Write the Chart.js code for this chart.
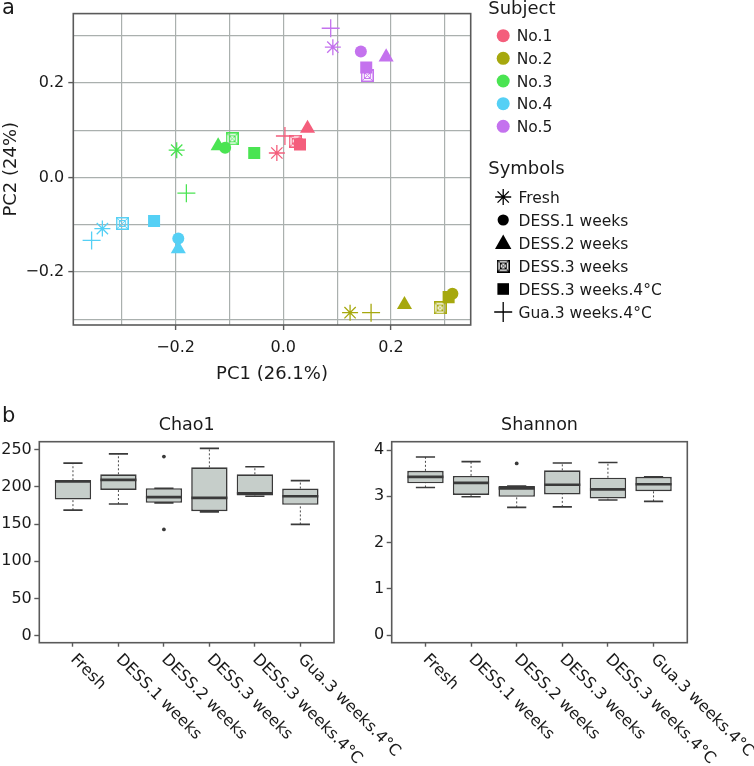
<!DOCTYPE html>
<html lang="en">
<head>
<meta charset="utf-8">
<title>PCA and alpha diversity</title>
<script src="https://cdn.jsdelivr.net/npm/chart.js"></script>
<style>
  html, body { margin: 0; padding: 0; background: #fff; }
  #fig { position: relative; width: 754px; height: 766px; overflow: hidden; font-family: "DejaVu Sans", sans-serif; color: #1a1a1a; }
  #fig canvas { position: absolute; }
  .panel { position: absolute; font-size: 21px; line-height: 21px; }
</style>
</head>
<body>
<div id="fig">
  <canvas id="pca" width="754" height="390" style="left:0;top:0"></canvas>
  <canvas id="chao" width="430" height="376" style="left:0;top:390px"></canvas>
  <canvas id="shannon" width="404" height="376" style="left:350px;top:390px"></canvas>
  <div class="panel" style="left:2px;top:-3px">a</div>
  <div class="panel" style="left:2px;top:405px">b</div>
</div>
<script>
// ---- data ----
const subjects = ['No.1', 'No.2', 'No.3', 'No.4', 'No.5'];
const subjectColors = ['#F45E7C', '#A6A80E', '#4AE452', '#55D0F5', '#C472EE'];
const treatments = ['Fresh', 'DESS.1 weeks', 'DESS.2 weeks', 'DESS.3 weeks', 'DESS.3 weeks.4°C', 'Gua.3 weeks.4°C'];

// PCA scores: one row per subject, columns in the order of treatments
const pc1 = [
  [-0.012, 0.030, 0.045, 0.022, 0.031, 0.003],
  [0.124, 0.314, 0.225, 0.291, 0.307, 0.163],
  [-0.198, -0.108, -0.121, -0.095, -0.054, -0.180],
  [-0.336, -0.195, -0.195, -0.299, -0.240, -0.356],
  [0.092, 0.144, 0.191, 0.156, 0.154, 0.088]
];
const pc2 = [
  [0.052, 0.072, 0.104, 0.077, 0.070, 0.088],
  [-0.286, -0.246, -0.269, -0.276, -0.253, -0.286],
  [0.058, 0.063, 0.067, 0.082, 0.052, -0.033],
  [-0.108, -0.129, -0.151, -0.097, -0.092, -0.133],
  [0.276, 0.267, 0.255, 0.216, 0.233, 0.316]
];

// Chao1 box stats per treatment
const chaoLow = [168.8, 177, 178.6, 166.5, 187.5, 149.6];
const chaoQ1 = [183, 196, 178.6, 167.4, 188.4, 175.9];
const chaoMed = [207.5, 209.5, 186.3, 185.3, 191.5, 187.5];
const chaoQ3 = [209, 217, 198.3, 226.3, 217, 197.8];
const chaoHigh = [232, 244.5, 198.3, 251.8, 227.2, 208.5];
const chaoOutGroup = [3, 3];
const chaoOutValue = [240.8, 142.9];

// Shannon box stats per treatment
const shanLow = [3.19, 2.99, 2.76, 2.77, 2.92, 2.89];
const shanQ1 = [3.28, 3.03, 2.99, 3.04, 2.95, 3.11];
const shanMed = [3.42, 3.29, 3.17, 3.25, 3.15, 3.26];
const shanQ3 = [3.55, 3.44, 3.22, 3.56, 3.40, 3.42];
const shanHigh = [3.85, 3.75, 3.22, 3.72, 3.73, 3.42];
const shanOutGroup = [3];
const shanOutValue = [3.71];

// ---- styling ----
const ink = '#1a1a1a';
const frameGrey = '#5a5a5a';
const gridGrey = '#AAB0AE';
const boxFill = '#C6CECA';
const boxLine = '#3a3a3a';
const fontFamily = '"DejaVu Sans", sans-serif';

Chart.defaults.font.family = fontFamily;
Chart.defaults.color = ink;
Chart.defaults.animation = false;
Chart.defaults.events = [];
Chart.defaults.plugins.legend.display = false;
Chart.defaults.plugins.tooltip.enabled = false;

// square with a cross in it (R pch 7 look)
function boxCross(color, size) {
  const c = document.createElement('canvas');
  c.width = size; c.height = size;
  const g = c.getContext('2d');
  g.strokeStyle = color;
  g.lineWidth = 1.5;
  g.strokeRect(0.75, 0.75, size - 1.5, size - 1.5);
  g.lineWidth = 1;
  g.strokeRect(3.5, 3.5, size - 7, size - 7);
  g.beginPath();
  g.moveTo(1, 1); g.lineTo(size - 1, size - 1);
  g.moveTo(size - 1, 1); g.lineTo(1, size - 1);
  g.stroke();
  return c;
}

const markerStyles = ['star', 'circle', 'triangle', 'boxcross', 'rect', 'cross'];
const markerRadius = [8, 6, 8.7, 7, 8.5, 9];
const markerLine = [1.3, 0, 0, 0, 0, 1.3];

function drawMarker(ctx, kind, x, y, color) {
  ctx.save();
  ctx.fillStyle = color;
  ctx.strokeStyle = color;
  ctx.lineWidth = 1.3;
  ctx.beginPath();
  if (kind === 'star') {
    for (let a = 0; a < 4; a++) {
      const ang = a * Math.PI / 4;
      ctx.moveTo(x - 8 * Math.cos(ang), y - 8 * Math.sin(ang));
      ctx.lineTo(x + 8 * Math.cos(ang), y + 8 * Math.sin(ang));
    }
    ctx.stroke();
  } else if (kind === 'circle') {
    ctx.arc(x, y, 5.6, 0, 2 * Math.PI);
    ctx.fill();
  } else if (kind === 'triangle') {
    ctx.moveTo(x, y - 8.5);
    ctx.lineTo(x + 8.2, y + 6);
    ctx.lineTo(x - 8.2, y + 6);
    ctx.closePath();
    ctx.fill();
  } else if (kind === 'boxcross') {
    ctx.drawImage(boxCross(color, 13), x - 6.5, y - 6.5);
  } else if (kind === 'rect') {
    ctx.fillRect(x - 5.8, y - 5.8, 11.6, 11.6);
  } else if (kind === 'cross') {
    ctx.moveTo(x - 9, y); ctx.lineTo(x + 9, y);
    ctx.moveTo(x, y - 10); ctx.lineTo(x, y + 10);
    ctx.stroke();
  }
  ctx.restore();
}

// full box around the plotting region
const framePlugin = {
  id: 'frame',
  afterDatasetsDraw(chart) {
    const a = chart.chartArea, ctx = chart.ctx;
    ctx.save();
    ctx.strokeStyle = frameGrey;
    ctx.lineWidth = 1.6;
    ctx.strokeRect(a.left, a.top, a.right - a.left, a.bottom - a.top);
    ctx.restore();
  }
};

// two-part legend next to the PCA plot
const pcaLegend = {
  id: 'pcaLegend',
  afterDraw(chart) {
    const ctx = chart.ctx;
    const left = chart.chartArea.right + 17.5;
    ctx.save();
    ctx.textAlign = 'left';
    ctx.textBaseline = 'alphabetic';
    ctx.fillStyle = ink;
    ctx.font = '18px ' + fontFamily;
    ctx.fillText('Subject', left, 14);
    ctx.fillText('Symbols', left, 174);
    ctx.font = '15.5px ' + fontFamily;
    subjects.forEach((s, i) => {
      const y = 35.7 + i * 22.65;
      ctx.beginPath();
      ctx.fillStyle = subjectColors[i];
      ctx.arc(left + 15, y, 6.5, 0, 2 * Math.PI);
      ctx.fill();
      ctx.fillStyle = ink;
      ctx.fillText(s, left + 28.5, y + 5.6);
    });
    treatments.forEach((t, k) => {
      const y = 197 + k * 23;
      drawMarker(ctx, markerStyles[k], left + 15, y, '#000');
      ctx.fillStyle = ink;
      ctx.fillText(t, left + 30.3, y + 5.6);
    });
    ctx.restore();
  }
};

// category labels slanted down to the right, starting at each tick
const slantLabels = {
  id: 'slantLabels',
  afterDraw(chart) {
    const ctx = chart.ctx, sx = chart.scales.x;
    ctx.save();
    ctx.font = '16px ' + fontFamily;
    ctx.fillStyle = ink;
    ctx.textAlign = 'left';
    ctx.textBaseline = 'middle';
    treatments.forEach((t, i) => {
      ctx.save();
      ctx.translate(sx.getPixelForValue(i + 1), chart.chartArea.bottom + 14.3);
      ctx.rotate(Math.PI / 4);
      ctx.fillText(t, 0, 0);
      ctx.restore();
    });
    ctx.restore();
  }
};

function pcLabel(v) {
  const k = Math.round(v * 10);
  if (k % 2 !== 0) return '';
  if (k === 0) return '0.0';
  return (k < 0 ? '\u2212' : '') + Math.abs(v).toFixed(1);
}
function majorTick(c) {
  if (!c.tick) return frameGrey;
  return Math.round(c.tick.value * 10) % 2 === 0 ? frameGrey : 'rgba(0,0,0,0)';
}

// ---- panel a: PCA ----
const pcaDatasets = subjects.map((name, s) => {
  const cross = boxCross(subjectColors[s], 13);
  return {
    label: name,
    data: treatments.map((t, k) => ({ x: pc1[s][k], y: pc2[s][k] })),
    pointStyle: markerStyles.map(m => (m === 'boxcross' ? cross : m)),
    pointRadius: markerRadius,
    pointBorderWidth: markerLine,
    pointBackgroundColor: subjectColors[s],
    pointBorderColor: subjectColors[s]
  };
});

new Chart(document.getElementById('pca'), {
  type: 'scatter',
  data: { datasets: pcaDatasets },
  options: {
    responsive: false,
    layout: { padding: { top: 1, right: 283.3, left: 0, bottom: 0 } },
    scales: {
      x: {
        type: 'linear', min: -0.39, max: 0.348,
        grid: { color: gridGrey, lineWidth: 1.2, tickLength: 5, tickColor: majorTick, tickWidth: 1.4 },
        border: { display: false },
        ticks: { stepSize: 0.1, includeBounds: false, autoSkip: false, maxRotation: 0, padding: 8,
                 font: { size: 16 }, color: ink, callback: pcLabel },
        title: { display: true, text: 'PC1 (26.1%)', color: ink, font: { size: 18 }, padding: { top: 0, bottom: 5 } },
        afterFit: s => { s.height = 65; }
      },
      y: {
        type: 'linear', min: -0.312, max: 0.347,
        grid: { color: gridGrey, lineWidth: 1.2, tickLength: 5, tickColor: majorTick, tickWidth: 1.4 },
        border: { display: false },
        ticks: { stepSize: 0.1, includeBounds: false, autoSkip: false, padding: 4,
                 font: { size: 16 }, color: ink, callback: pcLabel },
        title: { display: true, text: 'PC2 (24%)', color: ink, font: { size: 18 }, padding: { top: 1, bottom: 0 } },
        afterFit: s => { s.width = 73.3; }
      }
    }
  },
  plugins: [framePlugin, pcaLegend]
});

// ---- panel b: box plots ----
function boxPlot(id, title, lo, q1, med, q3, hi, outGroup, outValue, yMin, yMax, yStep, axisWidth, padRight) {
  const pos = treatments.map((t, i) => i + 1);
  const whiskers = [];
  pos.forEach((p, i) => {
    whiskers.push({ x: p, y: q3[i] }, { x: p, y: hi[i] }, { x: p, y: null });
    whiskers.push({ x: p, y: lo[i] }, { x: p, y: q1[i] }, { x: p, y: null });
  });
  const caps = pos.map((p, i) => ({ x: p, y: hi[i] })).concat(pos.map((p, i) => ({ x: p, y: lo[i] })));

  return new Chart(document.getElementById(id), {
    type: 'bar',
    data: {
      datasets: [
        { type: 'scatter', data: pos.map((p, i) => ({ x: p, y: med[i] })),
          pointStyle: 'line', pointRadius: 18, pointBorderWidth: 2.6, pointBorderColor: boxLine },
        { type: 'scatter', data: outGroup.map((g, i) => ({ x: g, y: outValue[i] })),
          pointStyle: 'circle', pointRadius: 1.9, pointBackgroundColor: boxLine, pointBorderWidth: 0 },
        { type: 'scatter', data: caps,
          pointStyle: 'line', pointRadius: 9.6, pointBorderWidth: 1.6, pointBorderColor: boxLine },
        { type: 'bar', data: pos.map((p, i) => ({ x: p, y: [q1[i], q3[i]] })),
          backgroundColor: boxFill, borderColor: boxLine, borderWidth: 1.6, borderSkipped: false,
          barPercentage: 0.8, categoryPercentage: 1 },
        { type: 'line', data: whiskers, borderColor: '#4a4a4a', borderWidth: 1, borderDash: [2, 2],
          pointRadius: 0, spanGaps: false }
      ]
    },
    options: {
      responsive: false,
      layout: { padding: { left: 0, right: padRight, top: 0, bottom: 0 } },
      plugins: {
        title: { display: true, text: title, fullSize: false, color: ink,
                 font: { size: 17.5, weight: 'normal' }, padding: { top: 24.5, bottom: 6.2 } }
      },
      scales: {
        x: {
          type: 'linear', min: 0.26, max: 6.74, offset: false,
          grid: { offset: false, drawOnChartArea: false, tickLength: 4, tickColor: frameGrey, tickWidth: 1.4 },
          border: { display: false },
          ticks: { stepSize: 1, includeBounds: false, autoSkip: false, maxRotation: 0, callback: () => '' },
          afterFit: s => { s.height = 123.3; }
        },
        y: {
          type: 'linear', min: yMin, max: yMax,
          grid: { drawOnChartArea: false, tickLength: 5, tickColor: frameGrey, tickWidth: 1.4 },
          border: { display: false },
          ticks: { stepSize: yStep, includeBounds: false, padding: 2.5, font: { size: 16 }, color: ink },
          afterFit: s => { s.width = axisWidth; }
        }
      }
    },
    plugins: [framePlugin, slantLabels]
  });
}

boxPlot('chao', 'Chao1', chaoLow, chaoQ1, chaoMed, chaoQ3, chaoHigh, chaoOutGroup, chaoOutValue,
        -9.4, 260.8, 50, 39.3, 96);
boxPlot('shannon', 'Shannon', shanLow, shanQ1, shanMed, shanQ3, shanHigh, shanOutGroup, shanOutValue,
        -0.166, 4.18, 1, 41.7, 66.7);
</script>
</body>
</html>
